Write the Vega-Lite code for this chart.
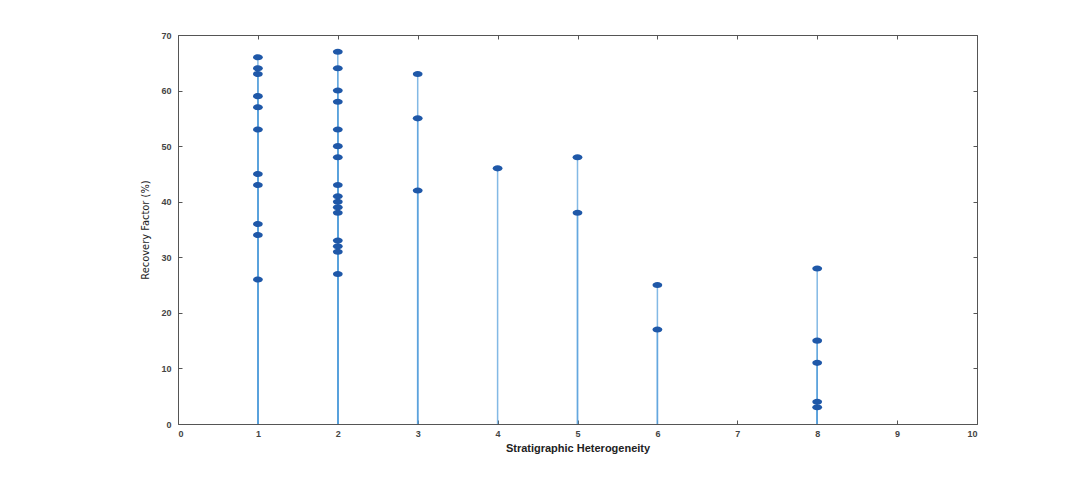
{
  "$schema": "https://vega.github.io/schema/vega-lite/v6.json",
  "width": 799,
  "height": 389,
  "autosize": "none",
  "padding": {"left": 178, "top": 35, "right": 115, "bottom": 53},
  "background": "white",
  "config": {"view": {"stroke": "#555", "strokeWidth": 1}},
  "data": {"values": [
    {"h": 1, "rf": 66}, {"h": 1, "rf": 64}, {"h": 1, "rf": 63}, {"h": 1, "rf": 59}, {"h": 1, "rf": 57},
    {"h": 1, "rf": 53}, {"h": 1, "rf": 45}, {"h": 1, "rf": 43}, {"h": 1, "rf": 36}, {"h": 1, "rf": 34}, {"h": 1, "rf": 26},
    {"h": 2, "rf": 67}, {"h": 2, "rf": 64}, {"h": 2, "rf": 60}, {"h": 2, "rf": 58}, {"h": 2, "rf": 53},
    {"h": 2, "rf": 50}, {"h": 2, "rf": 48}, {"h": 2, "rf": 43}, {"h": 2, "rf": 41}, {"h": 2, "rf": 40},
    {"h": 2, "rf": 39}, {"h": 2, "rf": 38}, {"h": 2, "rf": 33}, {"h": 2, "rf": 32}, {"h": 2, "rf": 31}, {"h": 2, "rf": 27},
    {"h": 3, "rf": 63}, {"h": 3, "rf": 55}, {"h": 3, "rf": 42},
    {"h": 4, "rf": 46},
    {"h": 5, "rf": 48}, {"h": 5, "rf": 38},
    {"h": 6, "rf": 25}, {"h": 6, "rf": 17},
    {"h": 8, "rf": 28}, {"h": 8, "rf": 15}, {"h": 8, "rf": 11}, {"h": 8, "rf": 4}, {"h": 8, "rf": 3}
  ]},
  "encoding": {
    "x": {"field": "h", "type": "quantitative", "scale": {"domain": [0, 10], "nice": false, "zero": false}},
    "y": {"field": "rf", "type": "quantitative", "scale": {"domain": [0, 70], "nice": false}}
  },
  "layer": [
    {
      "mark": {"type": "rule", "color": "#5aa2dc", "strokeWidth": 1.5, "opacity": 0.75},
      "encoding": {
        "x": {"field": "h", "type": "quantitative",
          "axis": {"orient": "bottom", "values": [0,1,2,3,4,5,6,7,8,9,10], "grid": false, "domain": false,
            "tickSize": -4, "tickColor": "#555", "labelPadding": 9, "labelFont": "Liberation Sans", "labelFontSize": 9, "labelFontWeight": "bold", "labelColor": "#444",
            "title": "Stratigraphic Heterogeneity", "titleFont": "Liberation Sans", "titleFontSize": 11, "titleFontWeight": "bold", "titleColor": "#222", "titlePadding": 4}},
        "y": {"field": "rf", "type": "quantitative",
          "axis": {"orient": "left", "values": [0,10,20,30,40,50,60,70], "grid": false, "domain": false,
            "tickSize": -4, "tickColor": "#555", "labelPadding": 11, "labelFont": "Liberation Sans", "labelFontSize": 9, "labelFontWeight": "bold", "labelColor": "#444",
            "title": "Recovery Factor (%)", "titleFont": "DejaVu Sans Condensed, Liberation Sans", "titleFontSize": 11, "titleFontWeight": "normal", "titleColor": "#222", "titlePadding": 10}},
        "y2": {"datum": 0}
      }
    },
    {
      "mark": {"type": "point", "filled": true, "color": "#1f58a8", "opacity": 1, "size": 95,
        "shape": "M-1,0 A1,0.62 0 1,0 1,0 A1,0.62 0 1,0 -1,0 Z"},
      "encoding": {
        "x": {"field": "h", "type": "quantitative", "axis": {"orient": "top", "values": [0,1,2,3,4,5,6,7,8,9,10], "labels": false, "title": null, "grid": false, "domain": false, "tickSize": -4, "tickColor": "#555"}},
        "y": {"field": "rf", "type": "quantitative", "axis": {"orient": "right", "values": [0,10,20,30,40,50,60,70], "labels": false, "title": null, "grid": false, "domain": false, "tickSize": -4, "tickColor": "#555"}}
      }
    }
  ],
  "resolve": {"axis": {"x": "independent", "y": "independent"}}
}
